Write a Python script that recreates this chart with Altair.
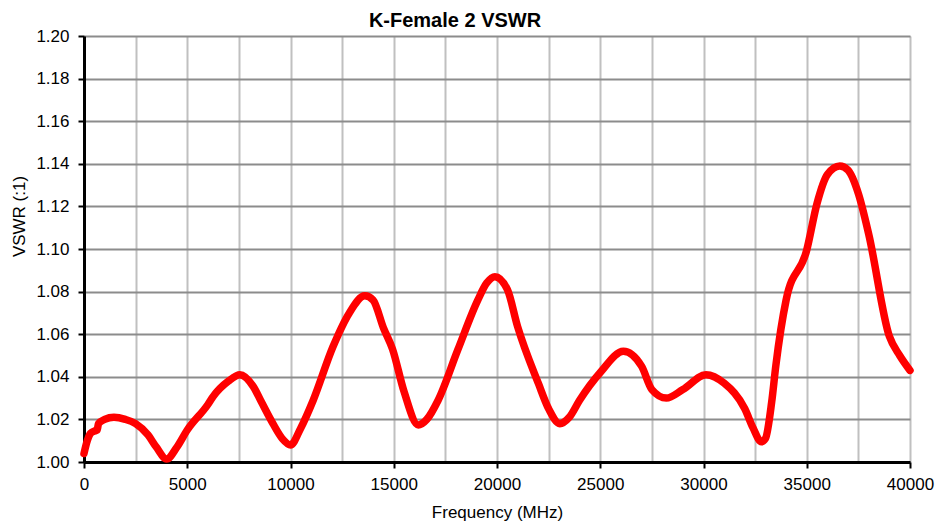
import altair as alt
import pandas as pd

freq_mhz = [0, 160, 320, 500, 640, 700, 1000, 1450, 2000, 2500, 3100, 3500, 4000, 4500, 5000,
            6000, 6250, 7000, 7550, 8200, 8600, 9150, 9600, 10000, 10500, 11100, 12050, 12850,
            13600, 14000, 14500, 14940, 15500, 16190, 16600, 17150, 18100, 19070, 19500, 19900,
            20500, 21000, 22000, 22500, 23040, 23500, 24000, 25000, 26120, 27000, 27500, 28200,
            29000, 30120, 31000, 32000, 32400, 32800, 33000, 33300, 33500, 34000, 35000, 35500,
            36000, 36600, 37000, 37500, 38000, 39000, 39500, 40000]
vswr = [1.004, 1.010, 1.0135, 1.0145, 1.015, 1.018, 1.020, 1.021, 1.020, 1.018, 1.0127, 1.007, 1.0014, 1.007, 1.015,
        1.027, 1.0307, 1.038, 1.041, 1.0354, 1.028, 1.018, 1.011, 1.008, 1.016, 1.029, 1.054, 1.070,
        1.078, 1.076, 1.063, 1.053, 1.033, 1.0174, 1.020, 1.029, 1.0526, 1.076, 1.084, 1.087,
        1.081, 1.0635, 1.037, 1.025, 1.018, 1.021, 1.029, 1.042, 1.052, 1.045, 1.034, 1.030,
        1.034, 1.041, 1.037, 1.025, 1.016, 1.0095, 1.011, 1.028, 1.045, 1.076, 1.0995, 1.1215,
        1.135, 1.139, 1.137, 1.126, 1.107, 1.059, 1.050, 1.043]

df = pd.DataFrame({"Frequency": freq_mhz, "VSWR": vswr})

x_grid_values = list(range(0, 40001, 2500))
y_values = [round(1.0 + 0.02 * i, 2) for i in range(11)]

font = "Liberation Sans"

chart = alt.Chart(df).mark_line(
    color="#ff0000", strokeWidth=7.5, interpolate="monotone", strokeCap="round", strokeJoin="round"
).encode(
    x=alt.X("Frequency:Q",
            scale=alt.Scale(domain=[0, 40000], nice=False, zero=False),
            axis=alt.Axis(
                title="Frequency (MHz)",
                values=x_grid_values,
                format="d",
                labelExpr="datum.value % 5000 == 0 ? datum.label : ''",
                tickOpacity=alt.condition("datum.value % 5000 == 0", alt.value(1), alt.value(0)),
                grid=True, gridColor="#c0c0c0", gridWidth=2,
                domainColor="#000000", domainWidth=3,
                tickColor="#000000", tickSize=6, tickWidth=2,
                labelFont=font, labelFontSize=17, labelColor="#000000", labelPadding=8,
                labelFlush=False,
                titleFont=font, titleFontSize=17, titleFontWeight="normal", titleColor="#000000",
                titlePadding=12,
            )),
    y=alt.Y("VSWR:Q",
            scale=alt.Scale(domain=[1.0, 1.2], nice=False, zero=False),
            axis=alt.Axis(
                title="VSWR (:1)",
                values=y_values,
                format=".2f",
                grid=True, gridColor="#8c8c8c", gridWidth=2,
                domainColor="#000000", domainWidth=3,
                tickColor="#000000", tickSize=6, tickWidth=2,
                labelFont=font, labelFontSize=17, labelColor="#000000", labelPadding=9,
                titleFont=font, titleFontSize=17, titleFontWeight="normal", titleColor="#000000",
                titleX=-65, titleY=180, titleAngle=-90, titleBaseline="middle", titleAlign="center",
            )),
).properties(
    width=826,
    height=426,
    title=alt.TitleParams("K-Female 2 VSWR", font=font, fontSize=20, fontWeight="bold",
                          color="#000000", anchor="middle", dx=-42, dy=9, offset=5),
    autosize=alt.AutoSizeParams(type="none"),
    padding={"left": 76, "top": 28, "right": 25, "bottom": 63},
).configure_view(
    stroke="#000000", strokeWidth=3
).configure(background="#ffffff")

chart.save("out.html", embed_options={"renderer": "svg", "actions": False})
